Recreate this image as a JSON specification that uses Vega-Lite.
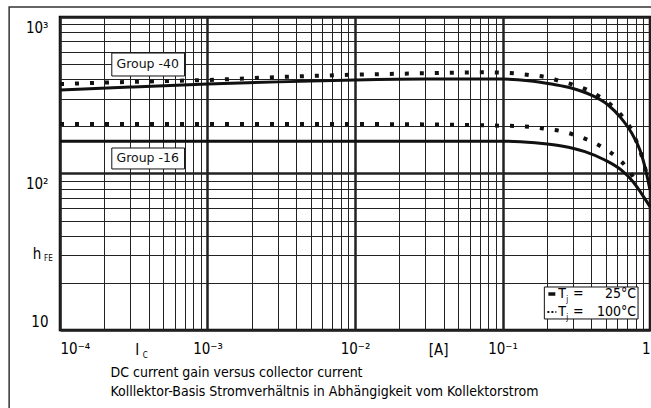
{
  "$schema": "https://vega.github.io/schema/vega-lite/v6.json",
  "width": 590,
  "height": 313,
  "autosize": {"type": "none"},
  "padding": {"left": 60, "top": 17, "right": 1, "bottom": 78},
  "background": "white",
  "config": {
    "font": "DejaVu Sans Condensed, DejaVu Sans",
    "view": {"stroke": "#000", "strokeWidth": 2.5}
  },
  "datasets": {
    "curves": [
      {"group": "-40", "temp": "25", "x": 0.0001, "y": 342},
      {"group": "-40", "temp": "25", "x": 0.0003, "y": 357},
      {"group": "-40", "temp": "25", "x": 0.001, "y": 373},
      {"group": "-40", "temp": "25", "x": 0.003, "y": 385},
      {"group": "-40", "temp": "25", "x": 0.01, "y": 396},
      {"group": "-40", "temp": "25", "x": 0.03, "y": 401},
      {"group": "-40", "temp": "25", "x": 0.1, "y": 401},
      {"group": "-40", "temp": "25", "x": 0.15, "y": 392},
      {"group": "-40", "temp": "25", "x": 0.2144, "y": 373},
      {"group": "-40", "temp": "25", "x": 0.2926, "y": 352},
      {"group": "-40", "temp": "25", "x": 0.3995, "y": 317},
      {"group": "-40", "temp": "25", "x": 0.5203, "y": 274},
      {"group": "-40", "temp": "25", "x": 0.637, "y": 226},
      {"group": "-40", "temp": "25", "x": 0.7439, "y": 184},
      {"group": "-40", "temp": "25", "x": 0.8559, "y": 141},
      {"group": "-40", "temp": "25", "x": 0.9251, "y": 110},
      {"group": "-40", "temp": "25", "x": 1.0, "y": 78.5},
      {"group": "-40", "temp": "100", "x": 0.0001, "y": 373},
      {"group": "-40", "temp": "100", "x": 0.0003, "y": 385},
      {"group": "-40", "temp": "100", "x": 0.001, "y": 396},
      {"group": "-40", "temp": "100", "x": 0.003, "y": 413},
      {"group": "-40", "temp": "100", "x": 0.01, "y": 428},
      {"group": "-40", "temp": "100", "x": 0.0292, "y": 437},
      {"group": "-40", "temp": "100", "x": 0.0474, "y": 441},
      {"group": "-40", "temp": "100", "x": 0.0755, "y": 443},
      {"group": "-40", "temp": "100", "x": 0.1205, "y": 437},
      {"group": "-40", "temp": "100", "x": 0.152, "y": 426},
      {"group": "-40", "temp": "100", "x": 0.1913, "y": 415},
      {"group": "-40", "temp": "100", "x": 0.2401, "y": 392},
      {"group": "-40", "temp": "100", "x": 0.3003, "y": 369},
      {"group": "-40", "temp": "100", "x": 0.3752, "y": 342},
      {"group": "-40", "temp": "100", "x": 0.4595, "y": 308},
      {"group": "-40", "temp": "100", "x": 0.5537, "y": 270},
      {"group": "-40", "temp": "100", "x": 0.6499, "y": 231},
      {"group": "-40", "temp": "100", "x": 0.7439, "y": 192},
      {"group": "-40", "temp": "100", "x": 0.8169, "y": 157},
      {"group": "-40", "temp": "100", "x": 0.8872, "y": 126},
      {"group": "-40", "temp": "100", "x": 0.944, "y": 101},
      {"group": "-16", "temp": "25", "x": 0.0001, "y": 161},
      {"group": "-16", "temp": "25", "x": 0.001, "y": 161},
      {"group": "-16", "temp": "25", "x": 0.01, "y": 161},
      {"group": "-16", "temp": "25", "x": 0.1, "y": 161},
      {"group": "-16", "temp": "25", "x": 0.1663, "y": 157},
      {"group": "-16", "temp": "25", "x": 0.2516, "y": 150},
      {"group": "-16", "temp": "25", "x": 0.3622, "y": 138},
      {"group": "-16", "temp": "25", "x": 0.4943, "y": 122},
      {"group": "-16", "temp": "25", "x": 0.64, "y": 105},
      {"group": "-16", "temp": "25", "x": 0.7676, "y": 88.6},
      {"group": "-16", "temp": "25", "x": 0.8735, "y": 74.7},
      {"group": "-16", "temp": "25", "x": 1.0, "y": 61.4},
      {"group": "-16", "temp": "100", "x": 0.0001, "y": 207},
      {"group": "-16", "temp": "100", "x": 0.001, "y": 207},
      {"group": "-16", "temp": "100", "x": 0.01, "y": 207},
      {"group": "-16", "temp": "100", "x": 0.0294, "y": 206},
      {"group": "-16", "temp": "100", "x": 0.1005, "y": 202},
      {"group": "-16", "temp": "100", "x": 0.1269, "y": 201},
      {"group": "-16", "temp": "100", "x": 0.1602, "y": 198},
      {"group": "-16", "temp": "100", "x": 0.2023, "y": 192},
      {"group": "-16", "temp": "100", "x": 0.2543, "y": 186},
      {"group": "-16", "temp": "100", "x": 0.3197, "y": 174},
      {"group": "-16", "temp": "100", "x": 0.3976, "y": 161},
      {"group": "-16", "temp": "100", "x": 0.489, "y": 145},
      {"group": "-16", "temp": "100", "x": 0.592, "y": 127.5},
      {"group": "-16", "temp": "100", "x": 0.6959, "y": 109},
      {"group": "-16", "temp": "100", "x": 0.78, "y": 93}
    ],
    "boxes": [
      {"kind": "frame", "x": 0.0000452, "x2": 2.11, "y": 1158, "y2": 2.66},
      {"kind": "box", "x": 0.0002245, "x2": 0.000699, "y": 588.8, "y2": 419.8},
      {"kind": "box", "x": 0.0002245, "x2": 0.000699, "y": 145.5, "y2": 106.9},
      {"kind": "box", "x": 0.1922, "x2": 0.8296, "y": 18.83, "y2": 11.76}
    ],
    "legendlines": [
      {"temp": "25", "x": 0.2046, "y": 16.98},
      {"temp": "25", "x": 0.2281, "y": 16.98},
      {"temp": "100", "x": 0.2015, "y": 13.03},
      {"temp": "100", "x": 0.2317, "y": 13.03}
    ],
    "texts": [
      {"kind": "axis", "x": 0.0000699, "y": 30.6, "text": "h"},
      {"kind": "axis", "x": 0.000334, "y": 7.45, "text": "I"},
      {"kind": "axis", "x": 0.03694, "y": 7.45, "text": "[A]"},
      {"kind": "sub", "x": 0.000078, "y": 28.6, "text": "FE"},
      {"kind": "sub", "x": 0.0003638, "y": 6.82, "text": "C"},
      {"kind": "group", "x": 0.0003932, "y": 501, "text": "Group -40"},
      {"kind": "group", "x": 0.0003932, "y": 125.6, "text": "Group -16"},
      {"kind": "legl", "x": 0.2389, "y": 16.98, "text": "T"},
      {"kind": "legl", "x": 0.2389, "y": 13.03, "text": "T"},
      {"kind": "sub", "x": 0.2706, "y": 15.55, "text": "j"},
      {"kind": "sub", "x": 0.2706, "y": 11.93, "text": "j"},
      {"kind": "legc", "x": 0.3263, "y": 16.98, "text": "="},
      {"kind": "legc", "x": 0.3263, "y": 13.03, "text": "="},
      {"kind": "legr", "x": 0.8043, "y": 16.98, "text": "25°C"},
      {"kind": "legr", "x": 0.8043, "y": 13.03, "text": "100°C"}
    ]
  },
  "encoding": {
    "x": {
      "field": "x",
      "type": "quantitative",
      "scale": {"type": "log", "domain": [0.0001, 1], "nice": false},
      "axis": {
        "title": ["DC current gain versus collector current", "Kolllektor-Basis Stromverhältnis in Abhängigkeit vom Kollektorstrom"],
        "values": [0.0001, 0.0002, 0.0003, 0.0004, 0.0005, 0.0006, 0.0007, 0.0008, 0.0009, 0.001, 0.002, 0.003, 0.004, 0.005, 0.006, 0.007, 0.008, 0.009, 0.01, 0.02, 0.03, 0.04, 0.05, 0.06, 0.07, 0.08, 0.09, 0.1, 0.2, 0.3, 0.4, 0.5, 0.6, 0.7, 0.8, 0.9, 1],
        "grid": true,
        "gridColor": "#222",
        "gridOpacity": 1,
        "gridWidth": {"condition": {"test": "abs(log(datum.value)/LN10 - round(log(datum.value)/LN10)) < 0.001", "value": 2.5}, "value": 1},
        "domain": false,
        "ticks": false,
        "labelExpr": "datum.value < 0.00015 ? '10⁻⁴' : (abs(datum.value - 0.001) < 0.000001 ? '10⁻³' : (abs(datum.value - 0.01) < 0.00001 ? '10⁻²' : (abs(datum.value - 0.1) < 0.0001 ? '10⁻¹' : (datum.value > 0.95 ? '1' : ''))))",
        "labelFlush": true,
        "labelOverlap": false,
        "labelPadding": 11,
        "labelFontSize": 15,
        "labelColor": "#000",
        "labelBaseline": "top",
        "titleFontSize": 14,
        "titleFontWeight": "normal",
        "titleColor": "#000",
        "titleAnchor": "start",
        "titleAlign": "left",
        "titleBaseline": "top",
        "titleX": 50,
        "titleY": 35,
        "titleLineHeight": 19
      }
    },
    "y": {
      "field": "y",
      "type": "quantitative",
      "scale": {"type": "log", "domain": [10, 1000], "nice": false},
      "axis": {
        "title": null,
        "values": [10, 20, 30, 40, 50, 60, 70, 80, 90, 100, 200, 300, 400, 500, 600, 700, 800, 900, 1000],
        "grid": true,
        "gridColor": "#222",
        "gridOpacity": 1,
        "gridWidth": {"condition": {"test": "abs(log(datum.value)/LN10 - round(log(datum.value)/LN10)) < 0.001", "value": 2.5}, "value": 1},
        "domain": false,
        "ticks": false,
        "labelExpr": "datum.value == 1000 ? '10³' : (datum.value == 100 ? '10²' : (datum.value == 10 ? '10' : ''))",
        "labelOverlap": false,
        "labelPadding": 12,
        "labelFontSize": 15,
        "labelColor": "#000",
        "labelBaseline": "middle",
        "labelOffset": {"condition": {"test": "datum.value == 10", "value": -9}, "value": 10}
      }
    }
  },
  "layer": [
    {
      "data": {"name": "boxes"},
      "transform": [{"filter": "datum.kind == 'frame'"}],
      "mark": {"type": "rect", "fill": null, "stroke": "#333", "strokeWidth": 1.5, "clip": false},
      "encoding": {"x2": {"field": "x2"}, "y2": {"field": "y2"}}
    },
    {
      "data": {"name": "curves"},
      "transform": [{"filter": "datum.temp == '25'"}],
      "mark": {"type": "line", "color": "#111", "strokeWidth": 3, "interpolate": "monotone"},
      "encoding": {"detail": {"field": "group"}}
    },
    {
      "data": {"name": "curves"},
      "transform": [{"filter": "datum.temp == '100'"}],
      "mark": {"type": "line", "color": "#111", "strokeWidth": 4, "strokeDash": [4, 11], "strokeCap": "butt", "interpolate": "monotone"},
      "encoding": {"detail": {"field": "group"}}
    },
    {
      "data": {"name": "boxes"},
      "transform": [{"filter": "datum.kind == 'box'"}],
      "mark": {"type": "rect", "fill": "white", "stroke": "#111", "strokeWidth": 1},
      "encoding": {"x2": {"field": "x2"}, "y2": {"field": "y2"}}
    },
    {
      "data": {"name": "legendlines"},
      "transform": [{"filter": "datum.temp == '25'"}],
      "mark": {"type": "line", "color": "#111", "strokeWidth": 3.5},
      "encoding": {}
    },
    {
      "data": {"name": "legendlines"},
      "transform": [{"filter": "datum.temp == '100'"}],
      "mark": {"type": "line", "color": "#111", "strokeWidth": 2, "strokeDash": [2, 2], "strokeCap": "butt"},
      "encoding": {}
    },
    {
      "data": {"name": "texts"},
      "transform": [{"filter": "datum.kind == 'axis'"}],
      "mark": {"type": "text", "fontSize": 15, "color": "#000", "align": "center", "baseline": "middle", "clip": false},
      "encoding": {"text": {"field": "text"}}
    },
    {
      "data": {"name": "texts"},
      "transform": [{"filter": "datum.kind == 'sub'"}],
      "mark": {"type": "text", "fontSize": 8, "color": "#000", "align": "left", "baseline": "middle", "clip": false},
      "encoding": {"text": {"field": "text"}}
    },
    {
      "data": {"name": "texts"},
      "transform": [{"filter": "datum.kind == 'group'"}],
      "mark": {"type": "text", "font": "DejaVu Sans", "fontSize": 12.5, "color": "#111", "align": "center", "baseline": "middle"},
      "encoding": {"text": {"field": "text"}}
    },
    {
      "data": {"name": "texts"},
      "transform": [{"filter": "datum.kind == 'legl'"}],
      "mark": {"type": "text", "fontSize": 14, "color": "#000", "align": "left", "baseline": "middle"},
      "encoding": {"text": {"field": "text"}}
    },
    {
      "data": {"name": "texts"},
      "transform": [{"filter": "datum.kind == 'legc'"}],
      "mark": {"type": "text", "fontSize": 14, "color": "#000", "align": "center", "baseline": "middle"},
      "encoding": {"text": {"field": "text"}}
    },
    {
      "data": {"name": "texts"},
      "transform": [{"filter": "datum.kind == 'legr'"}],
      "mark": {"type": "text", "fontSize": 14, "color": "#000", "align": "right", "baseline": "middle"},
      "encoding": {"text": {"field": "text"}}
    }
  ]
}
